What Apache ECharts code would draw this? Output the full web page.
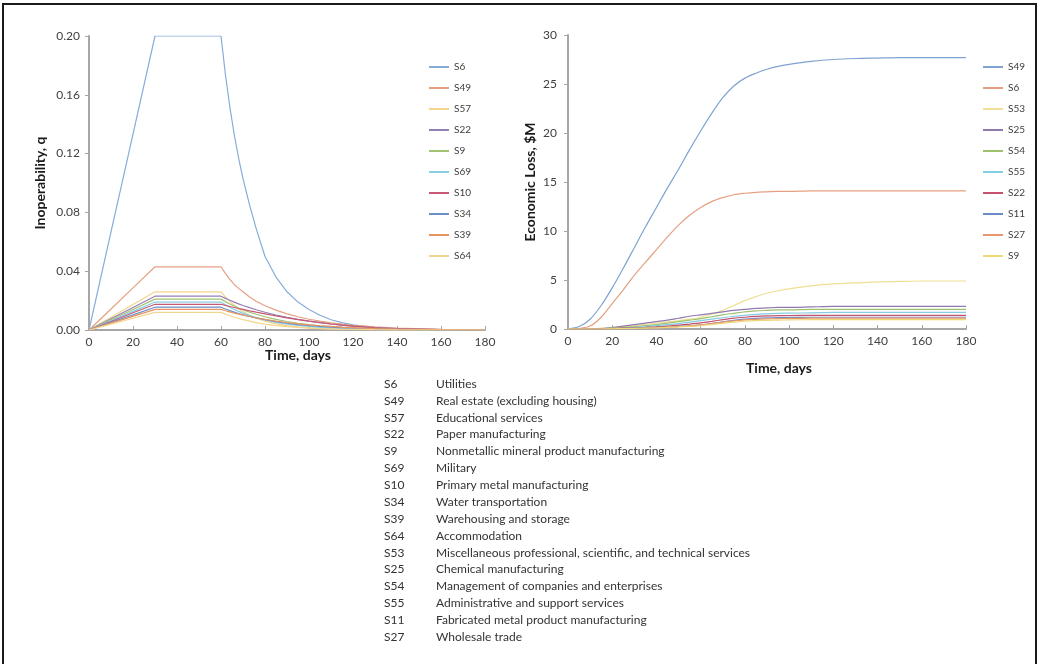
<!DOCTYPE html>
<html>
<head>
<meta charset="utf-8">
<script src="https://cdn.jsdelivr.net/npm/echarts@6/dist/echarts.min.js"></script>
<style>
  html, body { margin: 0; padding: 0; background: #fff; }
  #frame { position: absolute; left: 2px; top: 3px; width: 1031px; height: 700px;
    border: 2px solid #1a1a1a; border-bottom: none; }
  #chart { position: absolute; left: 0; top: 0; width: 1039px; height: 664px; }
</style>
</head>
<body>
<div id="chart"></div>
<div id="frame"></div>
<script>
// ---- left panel: inoperability q over time ----
const daysL = [0, 10, 20, 30, 40, 50, 60, 62, 64, 66, 68, 70, 73, 76, 80, 85, 90, 95, 100, 105, 110, 115, 120, 130, 140, 160, 180];
const namesL = ['S6', 'S49', 'S57', 'S22', 'S9', 'S69', 'S10', 'S34', 'S39', 'S64'];
const colorsL = ['#86acd8', '#e6a081', '#f2d48a', '#9580b4', '#a3c274', '#88cfe3', '#c65a76', '#6d8fc8', '#e99563', '#f3d68e'];
const qS6  = [0, 0.0667, 0.1333, 0.2, 0.2, 0.2, 0.2, 0.174, 0.152, 0.133, 0.117, 0.103, 0.085, 0.069, 0.05, 0.036, 0.026, 0.019, 0.014, 0.010, 0.007, 0.005, 0.0035, 0.0017, 0.0008, 0.0002, 0];
const qS49 = [0, 0.0143, 0.0287, 0.043, 0.043, 0.043, 0.043, 0.0385, 0.0345, 0.031, 0.0283, 0.026, 0.0225, 0.0196, 0.0165, 0.0135, 0.011, 0.009, 0.0073, 0.006, 0.0049, 0.004, 0.0032, 0.0021, 0.0013, 0.0005, 0.0002];
const qS57 = [0, 0.0087, 0.0173, 0.026, 0.026, 0.026, 0.026, 0.0225, 0.0195, 0.0168, 0.0145, 0.0125, 0.01, 0.008, 0.006, 0.0042, 0.003, 0.0021, 0.0015, 0.0011, 0.0008, 0.0006, 0.0004, 0.0002, 0.0001, 0, 0];
const qS22 = [0, 0.0077, 0.0153, 0.023, 0.023, 0.023, 0.023, 0.0215, 0.0202, 0.019, 0.0178, 0.0167, 0.0152, 0.0138, 0.0121, 0.0102, 0.0086, 0.0072, 0.006, 0.005, 0.0041, 0.0033, 0.0026, 0.0016, 0.0009, 0.0003, 0.0001];
const qS9  = [0, 0.007, 0.014, 0.021, 0.021, 0.021, 0.021, 0.0193, 0.0177, 0.0163, 0.015, 0.0138, 0.0121, 0.0107, 0.009, 0.0072, 0.0058, 0.0046, 0.0037, 0.0029, 0.0023, 0.0018, 0.0014, 0.0008, 0.0004, 0.0001, 0];
const qS69 = [0, 0.0063, 0.0127, 0.019, 0.019, 0.019, 0.019, 0.0172, 0.0155, 0.014, 0.0127, 0.0115, 0.0098, 0.0084, 0.0068, 0.0052, 0.004, 0.0031, 0.0024, 0.0018, 0.0014, 0.001, 0.0008, 0.0004, 0.0002, 0, 0];
const qS10 = [0, 0.0058, 0.0117, 0.0175, 0.0175, 0.0175, 0.0175, 0.0167, 0.016, 0.0153, 0.0146, 0.014, 0.013, 0.0121, 0.011, 0.0096, 0.0083, 0.0071, 0.006, 0.005, 0.0041, 0.0033, 0.0026, 0.0015, 0.0008, 0.0002, 0];
const qS34 = [0, 0.0052, 0.0103, 0.0155, 0.0155, 0.0155, 0.0155, 0.0143, 0.0132, 0.0122, 0.0112, 0.0104, 0.0092, 0.0082, 0.007, 0.0057, 0.0046, 0.0037, 0.003, 0.0024, 0.0019, 0.0015, 0.0012, 0.0007, 0.0004, 0.0001, 0];
const qS39 = [0, 0.0047, 0.0093, 0.014, 0.014, 0.014, 0.014, 0.0131, 0.0123, 0.0115, 0.0108, 0.0101, 0.0092, 0.0083, 0.0073, 0.0061, 0.0051, 0.0042, 0.0035, 0.0029, 0.0024, 0.0019, 0.0016, 0.001, 0.0006, 0.0002, 0];
const qS64 = [0, 0.004, 0.008, 0.012, 0.012, 0.012, 0.012, 0.0108, 0.0097, 0.0087, 0.0078, 0.007, 0.006, 0.005, 0.004, 0.003, 0.0023, 0.0017, 0.0013, 0.001, 0.0007, 0.0005, 0.0004, 0.0002, 0.0001, 0, 0];
const valuesL = [qS6, qS49, qS57, qS22, qS9, qS69, qS10, qS34, qS39, qS64];

// ---- right panel: cumulative economic loss, $M ----
const daysR = [0, 5, 10, 15, 20, 25, 30, 35, 40, 45, 50, 55, 60, 65, 70, 75, 80, 85, 90, 95, 100, 110, 120, 130, 140, 150, 160, 170, 180];
const namesR = ['S49', 'S6', 'S53', 'S25', 'S54', 'S55', 'S22', 'S11', 'S27', 'S9'];
const colorsR = ['#7fa3d0', '#e6a081', '#f0df94', '#8f7aae', '#9fc16e', '#84cde2', '#c4526f', '#6a8cc6', '#e6976c', '#eed776'];
const lS49 = [0, 0.25, 1.0, 2.4, 4.2, 6.2, 8.3, 10.4, 12.4, 14.4, 16.3, 18.3, 20.2, 22.0, 23.6, 24.8, 25.6, 26.1, 26.5, 26.8, 27.0, 27.3, 27.5, 27.6, 27.65, 27.7, 27.7, 27.7, 27.7];
const lS6  = [0, 0.05, 0.3, 1.2, 2.6, 4.0, 5.5, 6.8, 8.1, 9.4, 10.6, 11.6, 12.4, 13.0, 13.4, 13.7, 13.85, 13.95, 14.0, 14.05, 14.05, 14.1, 14.1, 14.1, 14.1, 14.1, 14.1, 14.1, 14.1];
const lS53 = [0, 0, 0.02, 0.08, 0.15, 0.25, 0.35, 0.47, 0.6, 0.72, 0.85, 1.0, 1.2, 1.5, 1.9, 2.4, 2.9, 3.3, 3.65, 3.9, 4.1, 4.4, 4.6, 4.7, 4.8, 4.85, 4.9, 4.9, 4.9];
const lS25 = [0, 0, 0, 0.02, 0.15, 0.3, 0.45, 0.6, 0.75, 0.9, 1.1, 1.3, 1.45, 1.6, 1.75, 1.9, 2.0, 2.1, 2.15, 2.2, 2.2, 2.25, 2.3, 2.3, 2.3, 2.3, 2.3, 2.3, 2.3];
const lS54 = [0, 0, 0, 0.01, 0.08, 0.16, 0.25, 0.35, 0.45, 0.6, 0.75, 0.9, 1.05, 1.25, 1.45, 1.6, 1.75, 1.85, 1.9, 1.95, 1.95, 2.0, 2.0, 2.0, 2.0, 2.0, 2.0, 2.0, 2.0];
const lS55 = [0, 0, 0, 0.01, 0.05, 0.1, 0.17, 0.25, 0.35, 0.45, 0.55, 0.7, 0.85, 1.0, 1.15, 1.3, 1.4, 1.5, 1.55, 1.6, 1.62, 1.65, 1.7, 1.7, 1.7, 1.7, 1.7, 1.7, 1.7];
const lS22 = [0, 0, 0, 0.01, 0.04, 0.08, 0.12, 0.17, 0.23, 0.3, 0.4, 0.5, 0.62, 0.78, 0.95, 1.1, 1.2, 1.28, 1.33, 1.36, 1.38, 1.4, 1.4, 1.4, 1.4, 1.4, 1.4, 1.4, 1.4];
const lS11 = [0, 0, 0, 0, 0.02, 0.05, 0.08, 0.12, 0.16, 0.2, 0.26, 0.33, 0.42, 0.55, 0.72, 0.88, 1.0, 1.08, 1.13, 1.16, 1.18, 1.2, 1.2, 1.2, 1.2, 1.2, 1.2, 1.2, 1.2];
const lS27 = [0, 0, 0, 0, 0.02, 0.04, 0.07, 0.1, 0.14, 0.19, 0.25, 0.32, 0.42, 0.55, 0.7, 0.83, 0.93, 0.99, 1.03, 1.06, 1.08, 1.1, 1.1, 1.1, 1.1, 1.1, 1.1, 1.1, 1.1];
const lS9  = [0, 0, 0, 0, 0.02, 0.04, 0.06, 0.09, 0.12, 0.16, 0.21, 0.27, 0.35, 0.46, 0.58, 0.7, 0.79, 0.85, 0.89, 0.91, 0.93, 0.95, 0.95, 0.95, 0.95, 0.95, 0.95, 0.95, 0.95];
const valuesR = [lS49, lS6, lS53, lS25, lS54, lS55, lS22, lS11, lS27, lS9];

// ---- sector key below the charts ----
const sectorCodes = ['S6', 'S49', 'S57', 'S22', 'S9', 'S69', 'S10', 'S34', 'S39', 'S64', 'S53', 'S25', 'S54', 'S55', 'S11', 'S27'];
const sectorNames = ['Utilities', 'Real estate (excluding housing)', 'Educational services', 'Paper manufacturing',
  'Nonmetallic mineral product manufacturing', 'Military', 'Primary metal manufacturing', 'Water transportation',
  'Warehousing and storage', 'Accommodation', 'Miscellaneous professional, scientific, and technical services',
  'Chemical manufacturing', 'Management of companies and enterprises', 'Administrative and support services',
  'Fabricated metal product manufacturing', 'Wholesale trade'];

const FONT = 'Lato, "Open Sans", sans-serif';
const labelStyle = { color: '#404040', fontSize: 12, fontFamily: FONT };
const axisLine = { show: true, lineStyle: { color: '#a6a6a6', width: 2 } };
const nameStyle = { color: '#1a1a1a', fontSize: 14, fontWeight: 'bold', fontFamily: FONT };

const chart = echarts.init(document.getElementById('chart'));

const seriesL = namesL.map((n, i) => ({
  name: 'L:' + n,
  type: 'line',
  xAxisIndex: 0,
  yAxisIndex: 0,
  symbol: 'none',
  color: colorsL[i],
  lineStyle: { width: 1.2 },
  data: daysL.map((d, k) => [d, valuesL[i][k]])
}));
const seriesR = namesR.map((n, i) => ({
  name: 'R:' + n,
  type: 'line',
  xAxisIndex: 1,
  yAxisIndex: 1,
  symbol: 'none',
  smooth: 0.3,
  color: colorsR[i],
  lineStyle: { width: 1.2 },
  data: daysR.map((d, k) => [d, valuesR[i][k]])
}));

const table = [];
sectorCodes.forEach((c, i) => {
  const y = 384 + i * 16.87;
  table.push({ type: 'text', style: { text: c, x: 384, y: y, fill: '#333', font: '12px ' + FONT, verticalAlign: 'middle' } });
  table.push({ type: 'text', style: { text: sectorNames[i], x: 436, y: y, fill: '#333', font: '12px ' + FONT, verticalAlign: 'middle' } });
});

const legendBase = {
  orient: 'vertical',
  icon: 'rect',
  itemWidth: 20,
  itemHeight: 2,
  itemGap: 11,
  textStyle: { color: '#404040', fontSize: 10, fontFamily: FONT },
  formatter: n => n.slice(2),
  selectedMode: false
};

chart.setOption({
  backgroundColor: '#fff',
  animation: false,
  grid: [
    { left: 89, top: 36, width: 396, height: 294 },
    { left: 568, top: 35, width: 398, height: 294 }
  ],
  legend: [
    Object.assign({}, legendBase, { left: 424, top: 57, data: namesL.map(n => 'L:' + n) }),
    Object.assign({}, legendBase, { left: 978, top: 57, data: namesR.map(n => 'R:' + n) })
  ],
  xAxis: [0, 1].map(g => ({
    type: 'value',
    gridIndex: g,
    min: 0,
    max: 180,
    interval: 20,
    name: 'Time, days',
    nameLocation: 'middle',
    nameGap: g === 0 ? 18 : 32,
    nameTextStyle: Object.assign({}, nameStyle, { padding: [0, 0, 0, g === 0 ? 22 : 24] }),
    axisLine: axisLine,
    axisTick: { show: true, inside: true, length: 4, lineStyle: { color: '#a6a6a6' } },
    axisLabel: Object.assign({ margin: 6 }, labelStyle),
    splitLine: { show: false }
  })),
  yAxis: [
    {
      type: 'value', gridIndex: 0, min: 0, max: 0.2, interval: 0.04,
      name: 'Inoperability, q', nameLocation: 'middle', nameRotate: 90, nameGap: 42,
      nameTextStyle: nameStyle,
      axisLine: axisLine,
      axisTick: { show: true, length: 4, lineStyle: { color: '#a6a6a6' } },
      axisLabel: Object.assign({ margin: 9, formatter: v => v.toFixed(2) }, labelStyle),
      splitLine: { show: false }
    },
    {
      type: 'value', gridIndex: 1, min: 0, max: 30, interval: 5,
      name: 'Economic Loss, $M', nameLocation: 'middle', nameRotate: 90, nameGap: 31,
      nameTextStyle: nameStyle,
      axisLine: axisLine,
      axisTick: { show: true, length: 4, lineStyle: { color: '#a6a6a6' } },
      axisLabel: Object.assign({ margin: 11 }, labelStyle),
      splitLine: { show: false }
    }
  ],
  graphic: table,
  series: seriesL.concat(seriesR)
});
</script>
</body>
</html>
